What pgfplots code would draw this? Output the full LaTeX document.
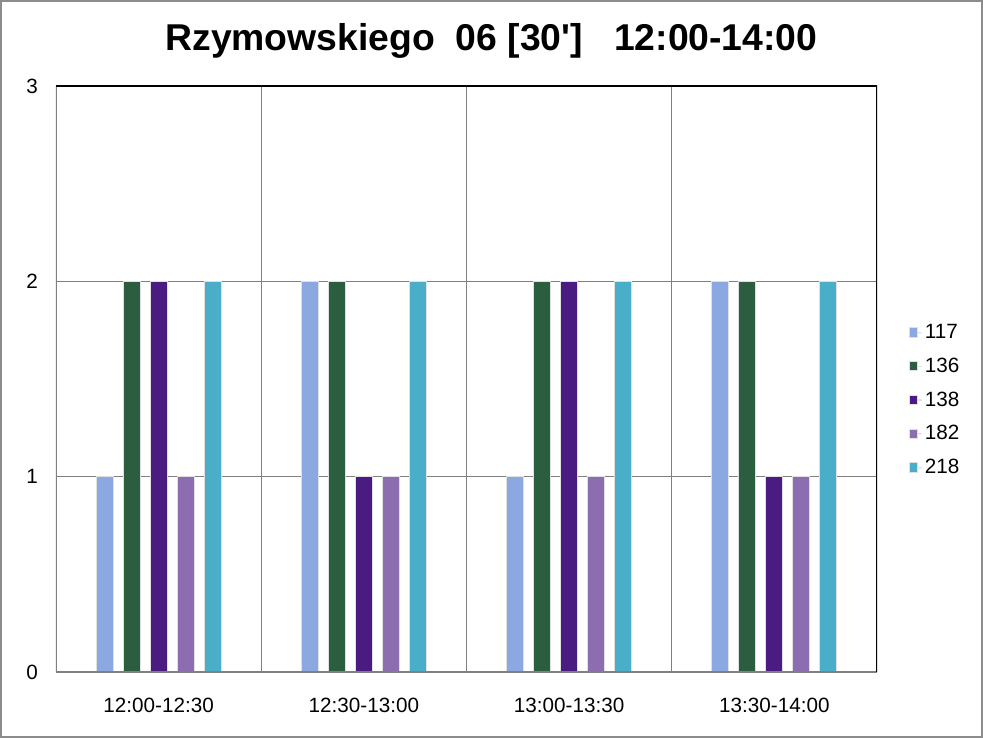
\documentclass[border=0pt]{standalone}
\usepackage{fontspec}
\setmainfont{Liberation Sans}
\usepackage{pgfplots}
\pgfplotsset{compat=1.18}
\definecolor{cA}{HTML}{8CA8E0}
\definecolor{cB}{HTML}{2B5E3E}
\definecolor{cC}{HTML}{4A1C82}
\definecolor{cD}{HTML}{8C6DB0}
\definecolor{cE}{HTML}{4BAEC8}
\begin{document}
\begin{tikzpicture}
\useasboundingbox (0,0) rectangle (737.25pt,553.5pt);
\draw[black!45, line width=1.5pt] (0.75pt,0.75pt) rectangle (736.5pt,552.75pt);
\node[font=\fontsize{28}{30}\selectfont\bfseries] at (368.6pt,523pt) {Rzymowskiego\ \ 06 [30\textquotesingle]\ \ \ 12:00-14:00};
\begin{axis}[
  at={(42pt,49.5pt)}, anchor=south west,
  scale only axis, width=615.75pt, height=439.5pt,
  xmin=-0.5, xmax=3.5, ymin=0, ymax=3,
  ybar=7.5pt, bar width=12.75pt,
  xtick={0,1,2,3},
  xticklabels={12:00-12:30,12:30-13:00,13:00-13:30,13:30-14:00},
  minor xtick={0.5,1.5,2.5},
  ytick={0,1,2,3},
  xminorgrids=true, ymajorgrids=true,
  grid style={black!50, line width=0.8pt},
  minor grid style={black!50, line width=0.8pt},
  major tick length=0pt, minor tick length=0pt,
  axis line style={draw=none},
  tick label style={font=\fontsize{15.5}{17}\selectfont},
  /pgf/number format/assume math mode=true,
  xticklabel style={yshift=-16pt},
  yticklabel style={xshift=-10pt},
  legend style={draw=none, fill=none, at={(1.034,0.464)}, anchor=west,
    font=\fontsize{15.5}{17}\selectfont, row sep=9pt,
    legend cell align=left},
  legend image code/.code={\path (0pt,0pt) rectangle (9pt,0pt);\fill[#1] (0pt,-3.5pt) rectangle (6pt,3.5pt);},
]
\addplot[fill=cA, draw=black!12, line width=0.8pt] coordinates {(0,1) (1,2) (2,1) (3,2)};
\addplot[fill=cB, draw=black!12, line width=0.8pt] coordinates {(0,2) (1,2) (2,2) (3,2)};
\addplot[fill=cC, draw=black!12, line width=0.8pt] coordinates {(0,2) (1,1) (2,2) (3,1)};
\addplot[fill=cD, draw=black!12, line width=0.8pt] coordinates {(0,1) (1,1) (2,1) (3,1)};
\addplot[fill=cE, draw=black!12, line width=0.8pt] coordinates {(0,2) (1,2) (2,2) (3,2)};
\legend{117,136,138,182,218}
\draw[black!50, line width=0.8pt] (rel axis cs:0,1) -- (rel axis cs:0,0) -- (rel axis cs:1,0);
\draw[black, line width=0.8pt] (rel axis cs:0,1) -- (rel axis cs:1,1) -- (rel axis cs:1,0);
\end{axis}
\end{tikzpicture}
\end{document}
